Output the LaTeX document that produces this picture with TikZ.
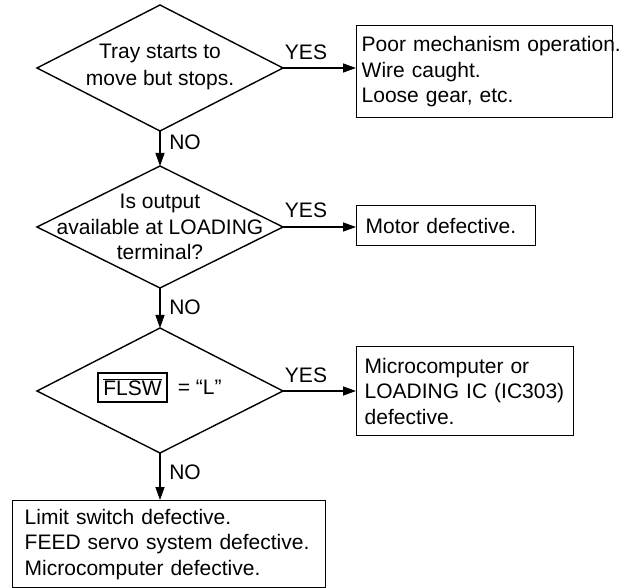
\documentclass[tikz,border=0pt]{standalone}
\usepackage{fontspec}
\setmainfont{Liberation Sans}
\usetikzlibrary{arrows.meta}
\begin{document}
\begin{tikzpicture}[x=1pt,y=-1pt,
  every node/.style={font=\fontsize{21}{25.5}\selectfont, inner sep=0pt},
  shapeline/.style={line width=1.4pt, line join=miter},
  box/.style={draw, line width=1.4pt, anchor=north west, align=left, inner ysep=0pt},
  conn/.style={line width=1.3pt, -{Triangle[length=13pt,width=9pt]}},
  lbl/.style={font=\fontsize{21}{24}\selectfont}]
\useasboundingbox (0,0) rectangle (622,588);

% diamond 1
\coordinate (d1t) at (160,5);
\coordinate (d1r) at (283,68);
\coordinate (d1b) at (160,131);
\coordinate (d1l) at (37,68);
\draw[shapeline] (d1t) -- (d1r) -- (d1b) -- (d1l) -- cycle;
\node[align=center, font=\fontsize{21}{27}\selectfont] (d1) at (160,67) {Tray starts to\\move but stops.};

% diamond 2
\coordinate (d2t) at (160,166);
\coordinate (d2r) at (283,227);
\coordinate (d2b) at (160,288);
\coordinate (d2l) at (37,227);
\draw[shapeline] (d2t) -- (d2r) -- (d2b) -- (d2l) -- cycle;
\node[align=center] (d2) at (160,227) {Is output\\available at LOADING\\terminal?};

% diamond 3
\coordinate (d3t) at (160,328);
\coordinate (d3r) at (283,391);
\coordinate (d3b) at (160,453);
\coordinate (d3l) at (37,391);
\draw[shapeline] (d3t) -- (d3r) -- (d3b) -- (d3l) -- cycle;
\node[draw, line width=1.2pt, minimum width=69pt, minimum height=29pt] (flsw) at (132.5,387.5) {$\overline{\hbox{FLSW}}$};
\node[anchor=west] (eqL) at ([xshift=10pt]flsw.east) {= “L”};

% result boxes
\node[box, inner xsep=5pt, text width=246pt, minimum height=92pt] (b1) at (356,25)
  {\mbox{Poor mechanism operation.}\\\mbox{Wire caught.}\\\mbox{Loose gear, etc.}};
\node[box, inner xsep=9pt, text width=161pt, minimum height=40pt] (b2) at (356,205)
  {\mbox{Motor defective.}};
\node[box, inner xsep=8pt, text width=201pt, minimum height=89pt] (b3) at (356,346)
  {\mbox{Microcomputer or}\\\mbox{LOADING IC (IC303)}\\\mbox{defective.}};
\node[box, inner xsep=12pt, text width=289pt, minimum height=87pt] (b4) at (12,500)
  {\mbox{Limit switch defective.}\\\mbox{FEED servo system defective.}\\\mbox{Microcomputer defective.}};

% connectors
\draw[conn] (d1r) -- (d1r -| b1.west);
\draw[conn] (d2r) -- (d2r -| b2.west);
\draw[conn] (d3r) -- (d3r -| b3.west);
\draw[conn] (d1b) -- (d2t);
\draw[conn] (d2b) -- (d3t);
\draw[conn] (d3b) -- (d3b |- b4.north);

% labels
\node[lbl] (y1) at (306,52) {YES};
\node[lbl] (y2) at (306,210) {YES};
\node[lbl] (y3) at (306,375) {YES};
\node[lbl] (n1) at (185,142) {NO};
\node[lbl] (n2) at (185,307) {NO};
\node[lbl] (n3) at (185,472) {NO};
\end{tikzpicture}
\end{document}
